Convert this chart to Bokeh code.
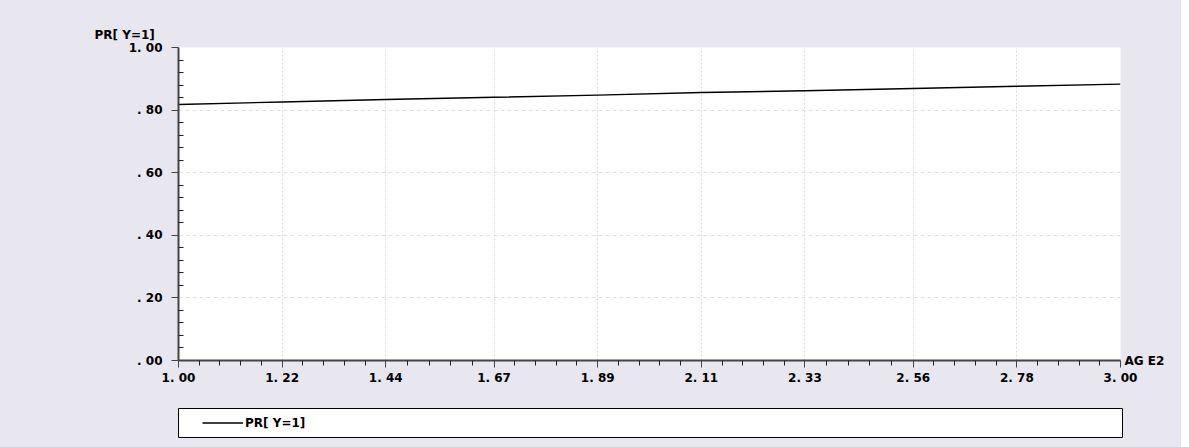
from bokeh.plotting import figure
from bokeh.layouts import column
from bokeh.models import (Range1d, FixedTicker, CustomJSTickFormatter,
                          Legend, LegendItem, LinearAxis)
from bokeh.embed import file_html
from bokeh.resources import INLINE

# ---- data ----
age2 = [1.00, 1.22, 1.44, 1.67, 1.89, 2.11, 2.33, 2.56, 2.78, 3.00]
pr_y1 = [0.818, 0.826, 0.834, 0.841, 0.848, 0.856, 0.862, 0.869, 0.876, 0.883]

x_ticks = [1.00, 1.22, 1.44, 1.67, 1.89, 2.11, 2.33, 2.56, 2.78, 3.00]
x_tick_labels = ["1. 00", "1. 22", "1. 44", "1. 67", "1. 89",
                 "2. 11", "2. 33", "2. 56", "2. 78", "3. 00"]
y_ticks = [0.0, 0.2, 0.4, 0.6, 0.8, 1.0]
y_tick_labels = [". 00", ". 20", ". 40", ". 60", ". 80", "1. 00"]

series_name = "PR[ Y=1]"
y_title = "PR[ Y=1]"
x_title = "AG E2"

BG = "#E8E6EE"
FONT = "DejaVu Sans"
W = 1181

# ---------------- main chart ----------------
p = figure(output_backend="svg", toolbar_location=None,
           frame_width=942, frame_height=313,
           min_border_left=175, min_border_right=W - 175 - 942,
           min_border_top=47, min_border_bottom=40,
           x_range=Range1d(1.0, 3.0), y_range=Range1d(0.0, 1.0),
           background_fill_color="white", border_fill_color=BG)
p.outline_line_color = None

x_minor = []
for a, b in zip(x_ticks[:-1], x_ticks[1:]):
    for k in range(1, 5):
        x_minor.append(a + (b - a) * k / 5)
y_minor = []
for a, b in zip(y_ticks[:-1], y_ticks[1:]):
    for k in range(1, 5):
        y_minor.append(a + (b - a) * k / 5)

p.xaxis.ticker = FixedTicker(ticks=x_ticks, minor_ticks=x_minor)
p.yaxis.ticker = FixedTicker(ticks=y_ticks, minor_ticks=y_minor)

fmt_code = """
let i = -1;
for (let j = 0; j < ticks_all.length; j++) {
  if (Math.abs(ticks_all[j] - tick) < 1e-9) { i = j; break; }
}
return i >= 0 ? labels[i] : "";
"""
p.xaxis.formatter = CustomJSTickFormatter(args=dict(ticks_all=x_ticks, labels=x_tick_labels), code=fmt_code)
p.yaxis.formatter = CustomJSTickFormatter(args=dict(ticks_all=y_ticks, labels=y_tick_labels), code=fmt_code)

for ax in (p.xaxis, p.yaxis):
    ax.axis_line_color = "#444444"
    ax.axis_line_width = 2
    ax.major_tick_line_color = "#444444"
    ax.minor_tick_line_color = "#222222"
    ax.major_label_text_font = FONT
    ax.major_label_text_font_style = "bold"
    ax.major_label_text_font_size = "12px"
    ax.major_label_text_color = "black"

p.xaxis.major_tick_out = 7
p.xaxis.major_tick_in = 0
p.xaxis.minor_tick_out = 5
p.xaxis.minor_tick_in = 0
p.xaxis.major_label_standoff = 3

p.yaxis.major_tick_out = 7
p.yaxis.major_tick_in = 0
p.yaxis.minor_tick_out = 0
p.yaxis.minor_tick_in = 5
p.yaxis.major_label_standoff = 9

p.xgrid.ticker = FixedTicker(ticks=x_ticks)
p.ygrid.ticker = FixedTicker(ticks=y_ticks)
p.xgrid.grid_line_color = "#DADADA"
p.xgrid.grid_line_dash = "2 2"
p.ygrid.grid_line_color = "#E2E2E2"
p.ygrid.grid_line_dash = "4 3"

r = p.line(age2, pr_y1, line_color="black", line_width=1.4)

# y title at top-left (as the plot title, shifted left of the frame)
p.title.text = y_title
p.title.align = "left"
p.title.offset = -84
p.title.standoff = 12
p.title.text_font = FONT
p.title.text_font_style = "bold"
p.title.text_font_size = "12px"
p.title.text_color = "black"

# x title at the right end of the x axis (a label-only right axis at y = 0)
xt_axis = LinearAxis(ticker=FixedTicker(ticks=[0.0]),
                     formatter=CustomJSTickFormatter(args=dict(t=x_title), code="return t;"),
                     axis_line_color=None, major_tick_line_color=None,
                     minor_tick_line_color=None, major_tick_out=0, major_tick_in=0,
                     major_label_standoff=4,
                     major_label_text_font=FONT, major_label_text_font_style="bold",
                     major_label_text_font_size="12px", major_label_text_color="black")
p.add_layout(xt_axis, "right")

# ---------------- legend strip ----------------
p2 = figure(output_backend="svg", toolbar_location=None,
            frame_width=944, frame_height=29,
            min_border_left=178, min_border_right=W - 178 - 944,
            min_border_top=8, min_border_bottom=10,
            x_axis_type=None, y_axis_type=None,
            background_fill_color="white", border_fill_color=BG)
p2.outline_line_color = "black"
p2.outline_line_width = 1
p2.xgrid.visible = False
p2.ygrid.visible = False

r2 = p2.line(age2, pr_y1, line_color="black", line_width=1.4, visible=False)
lg = Legend(items=[LegendItem(label=series_name, renderers=[r2])],
            location=(24, 0), orientation="vertical",
            padding=0, margin=0, spacing=0,
            glyph_width=41, glyph_height=29, label_standoff=2,
            label_height=29,
            label_text_font=FONT, label_text_font_style="bold",
            label_text_font_size="12px", label_text_color="black",
            background_fill_alpha=0.0, border_line_color=None,
            inactive_fill_alpha=0.0)
p2.add_layout(lg)

layout = column(p, p2, spacing=0, styles={"background-color": BG})
open("out.html", "w").write(file_html(layout, INLINE))
